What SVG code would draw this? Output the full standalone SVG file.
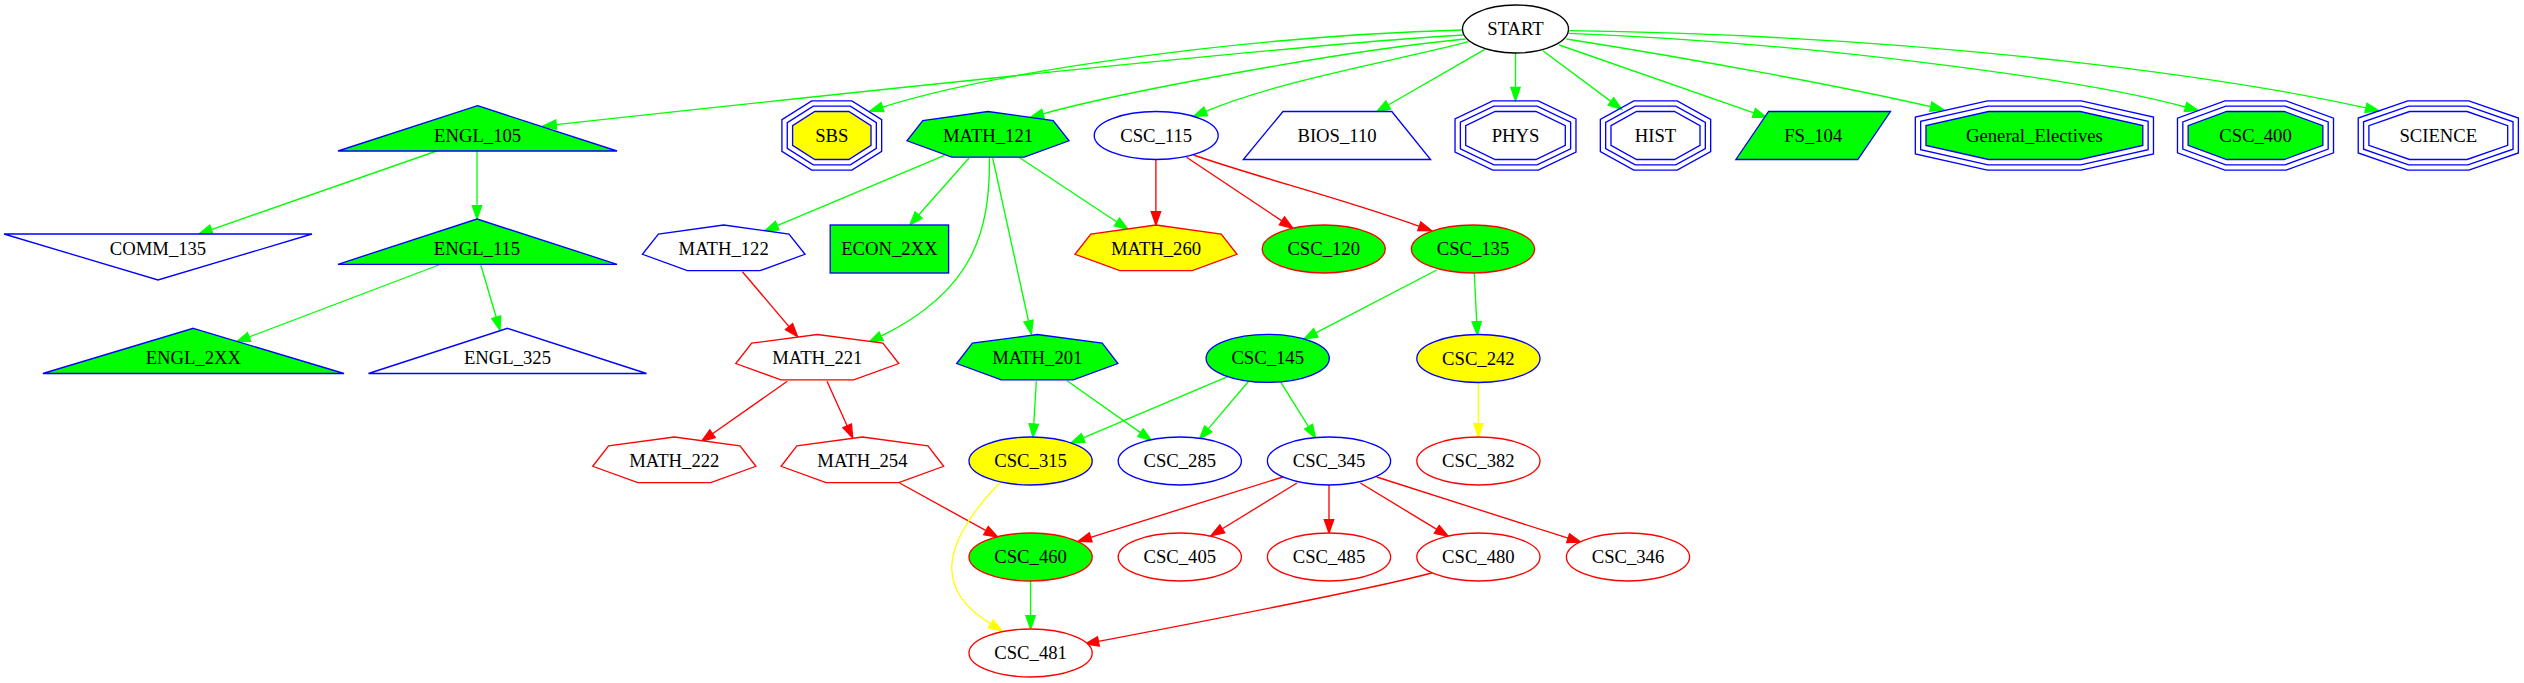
<svg xmlns="http://www.w3.org/2000/svg" width="2524" height="683" viewBox="0 0 2524 683">
<style>
text { font-family: "Liberation Serif", "Times New Roman", serif; font-size: 18.67px; text-anchor: middle; fill: #000000; }
.sb { stroke: #0000ff; stroke-width: 1.33; }
.sr { stroke: #ff0000; stroke-width: 1.33; }
.sk { stroke: #000000; stroke-width: 1.33; }
.fg { fill: #00ff00; }
.fy { fill: #ffff00; }
.fw { fill: #ffffff; }
.fn { fill: none; }
#edges path { fill: none; stroke-width: 1.33; }
.eg { stroke: #00ff00; marker-end: url(#ag); }
.er { stroke: #ff0000; marker-end: url(#ar); }
.ey { stroke: #ffff00; marker-end: url(#ay); }
</style>
<defs>
<marker id="ag" markerUnits="userSpaceOnUse" viewBox="-1 -6 16 12" markerWidth="16" markerHeight="12" refX="0" refY="0" orient="auto"><path d="M0,-4.67 L13.33,0 L0,4.67 Z" fill="#00ff00" stroke="#00ff00" stroke-width="1.33"/></marker>
<marker id="ar" markerUnits="userSpaceOnUse" viewBox="-1 -6 16 12" markerWidth="16" markerHeight="12" refX="0" refY="0" orient="auto"><path d="M0,-4.67 L13.33,0 L0,4.67 Z" fill="#ff0000" stroke="#ff0000" stroke-width="1.33"/></marker>
<marker id="ay" markerUnits="userSpaceOnUse" viewBox="-1 -6 16 12" markerWidth="16" markerHeight="12" refX="0" refY="0" orient="auto"><path d="M0,-4.67 L13.33,0 L0,4.67 Z" fill="#ffff00" stroke="#ffff00" stroke-width="1.33"/></marker>
</defs>
<rect x="0" y="0" width="2524" height="683" fill="#ffffff"/>
<g id="edges">
<path class="eg" d="M1463.7,35 C1300,44 800,98 556.2,124.6"/>
<path class="eg" d="M1462.4,30 C1250,36 1000,70 882.5,107.1"/>
<path class="eg" d="M1465.7,39 C1330,52 1110,95 1043,113.8"/>
<path class="eg" d="M1468.6,41.7 C1400,60 1280,80 1205.7,111.4"/>
<path class="eg" d="M1484.9,49.3 L1388.2,105"/>
<path class="eg" d="M1515.5,53 L1515.5,87.4"/>
<path class="eg" d="M1542.9,50.7 L1610.9,101.4"/>
<path class="eg" d="M1559.2,45 L1753.9,112.9"/>
<path class="eg" d="M1566.5,39 C1700,60 1850,88 1930.8,106.7"/>
<path class="eg" d="M1568.6,33.3 C1800,42 2080,78 2185.5,107"/>
<path class="eg" d="M1568.6,30.7 C1950,36 2240,80 2366,107.9"/>
<path class="eg" d="M436.7,151 L211.4,229.6"/>
<path class="eg" d="M477,151 L477,205.7"/>
<path class="eg" d="M438.8,265 L249.1,337"/>
<path class="eg" d="M480.8,265 L496.2,317.2"/>
<path class="eg" d="M944.5,155.3 L777.2,225.6"/>
<path class="eg" d="M969,158 L918.6,215"/>
<path class="eg" d="M989.4,158 C990,230 975,290 881.1,336.2"/>
<path class="eg" d="M992.7,158 L1028.5,321"/>
<path class="eg" d="M1019,157.3 L1116.9,222"/>
<path class="eg" d="M1436.7,270 L1315.8,332.9"/>
<path class="eg" d="M1474.3,273.3 L1476.7,321.7"/>
<path class="eg" d="M1036.3,381.3 L1033.8,424"/>
<path class="eg" d="M1067,380.7 L1140.5,432.6"/>
<path class="eg" d="M1228.2,376.3 L1083.2,437.8"/>
<path class="eg" d="M1248.6,381.3 L1208.2,428.9"/>
<path class="eg" d="M1280.8,382.3 L1308.5,426.7"/>
<path class="eg" d="M1030.6,581 L1030.6,615.7"/>
<path class="er" d="M1155.9,159.5 L1155.9,211.7"/>
<path class="er" d="M1186.5,157.3 L1281.9,220.9"/>
<path class="er" d="M1193.5,155 C1260,178 1340,198 1419.3,226.3"/>
<path class="er" d="M742.4,271.7 L789,326.6"/>
<path class="er" d="M787.3,381.3 L712.5,433.7"/>
<path class="er" d="M827,381.3 L847.2,425.9"/>
<path class="er" d="M899.6,483 L986,530.6"/>
<path class="er" d="M1282.9,477 L1090.7,537.3"/>
<path class="er" d="M1297,483 L1222.3,528.8"/>
<path class="er" d="M1329,485 L1329,519.7"/>
<path class="er" d="M1360.4,483 L1436.8,529.4"/>
<path class="er" d="M1376.7,477 L1568.1,538.2"/>
<path class="er" d="M1431.8,573 C1380,587 1200,622 1098.4,641.4"/>
<path class="ey" d="M1478.4,382.5 L1478.4,423.7"/>
<path class="ey" d="M999.6,483 C940,545 935,590 990.7,623.9"/>
</g>
<g id="START"><ellipse cx="1515.5" cy="29" rx="53" ry="24" class="fw sk"/><text x="1515.5" y="35">START</text></g>
<g id="ENGL_105"><polygon points="477.6,105.7 617,151 338,151" class="fg sb"/><text x="477.6" y="141.5">ENGL_105</text></g>
<g id="SBS">
<polygon points="811.7,100.83 851.9,100.83 881.67,119.74 881.67,151.26 851.9,170.17 811.7,170.17 781.93,151.26 781.93,119.74" class="fn sb"/>
<polygon points="813.25,106.17 850.35,106.17 876.33,122.67 876.33,148.33 850.35,164.83 813.25,164.83 787.27,148.33 787.27,122.67" class="fn sb"/>
<polygon points="814.8,111.5 848.8,111.5 871,125.6 871,145.4 848.8,159.5 814.8,159.5 792.6,145.4 792.6,125.6" class="fy sb"/>
<text x="831.8" y="141.5">SBS</text></g>
<g id="MATH_121"><polygon points="988,111.5 1053.2,120.5 1069,140.8 1024.2,157.2 951.8,157.2 907,140.8 922.8,120.5" class="fg sb"/><text x="988" y="141.5">MATH_121</text></g>
<g id="CSC_115"><ellipse cx="1156.2" cy="135.5" rx="62" ry="24" class="fw sb"/><text x="1156.2" y="141.5">CSC_115</text></g>
<g id="BIOS_110"><polygon points="1283,111.5 1391.8,111.5 1430.6,159.5 1243.3,159.5" class="fw sb"/><text x="1337" y="141.5">BIOS_110</text></g>
<g id="PHYS">
<polygon points="1492.68,100.83 1538.32,100.83 1575.97,118.89 1575.97,152.11 1538.32,170.17 1492.68,170.17 1455.03,152.11 1455.03,118.89" class="fn sb"/>
<polygon points="1493.89,106.17 1537.11,106.17 1570.63,122.25 1570.63,148.75 1537.11,164.83 1493.89,164.83 1460.37,148.75 1460.37,122.25" class="fn sb"/>
<polygon points="1495.1,111.5 1535.9,111.5 1565.3,125.6 1565.3,145.4 1535.9,159.5 1495.1,159.5 1465.7,145.4 1465.7,125.6" class="fw sb"/>
<text x="1515.5" y="141.5">PHYS</text></g>
<g id="HIST">
<polygon points="1633.81,100.83 1677.19,100.83 1710.67,119.3 1710.67,151.7 1677.19,170.17 1633.81,170.17 1600.33,151.7 1600.33,119.3" class="fn sb"/>
<polygon points="1635.18,106.17 1675.82,106.17 1705.33,122.45 1705.33,148.55 1675.82,164.83 1635.18,164.83 1605.67,148.55 1605.67,122.45" class="fn sb"/>
<polygon points="1636.55,111.5 1674.45,111.5 1700,125.6 1700,145.4 1674.45,159.5 1636.55,159.5 1611,145.4 1611,125.6" class="fw sb"/>
<text x="1655.5" y="141.5">HIST</text></g>
<g id="FS_104"><polygon points="1768.6,111.5 1890.5,111.5 1857.8,159.5 1735.9,159.5" class="fg sb"/><text x="1813.2" y="141.5">FS_104</text></g>
<g id="General_Electives">
<polygon points="1987.42,100.83 2081.38,100.83 2153.47,117.06 2153.47,153.94 2081.38,170.17 1987.42,170.17 1915.33,153.94 1915.33,117.06" class="fn sb"/>
<polygon points="1988.01,106.17 2080.79,106.17 2148.13,121.34 2148.13,149.66 2080.79,164.83 1988.01,164.83 1920.67,149.66 1920.67,121.34" class="fn sb"/>
<polygon points="1988.6,111.5 2080.2,111.5 2142.8,125.6 2142.8,145.4 2080.2,159.5 1988.6,159.5 1926,145.4 1926,125.6" class="fg sb"/>
<text x="2034.4" y="141.5">General_Electives</text></g>
<g id="CSC_400">
<polygon points="2224.86,100.83 2286.14,100.83 2333.52,118.13 2333.52,152.87 2286.14,170.17 2224.86,170.17 2177.48,152.87 2177.48,118.13" class="fn sb"/>
<polygon points="2225.8,106.17 2285.2,106.17 2328.18,121.87 2328.18,149.13 2285.2,164.83 2225.8,164.83 2182.82,149.13 2182.82,121.87" class="fn sb"/>
<polygon points="2226.75,111.5 2284.25,111.5 2322.85,125.6 2322.85,145.4 2284.25,159.5 2226.75,159.5 2188.15,145.4 2188.15,125.6" class="fg sb"/>
<text x="2255.5" y="141.5">CSC_400</text></g>
<g id="SCIENCE">
<polygon points="2407.75,100.83 2468.85,100.83 2518.37,118 2518.37,153 2468.85,170.17 2407.75,170.17 2358.23,153 2358.23,118" class="fn sb"/>
<polygon points="2408.65,106.17 2467.95,106.17 2513.03,121.8 2513.03,149.2 2467.95,164.83 2408.65,164.83 2363.57,149.2 2363.57,121.8" class="fn sb"/>
<polygon points="2409.55,111.5 2467.05,111.5 2507.7,125.6 2507.7,145.4 2467.05,159.5 2409.55,159.5 2368.9,145.4 2368.9,125.6" class="fw sb"/>
<text x="2438.3" y="141.5">SCIENCE</text></g>
<g id="COMM_135"><polygon points="4,234 312,234 158,280" class="fw sb"/><text x="158" y="255">COMM_135</text></g>
<g id="ENGL_115"><polygon points="477,219 617,264.3 338,264.3" class="fg sb"/><text x="477" y="255">ENGL_115</text></g>
<g id="MATH_122"><polygon points="723.7,225 789,234 805,254.3 760,270.7 687.4,270.7 642.4,254.3 658.4,234" class="fw sb"/><text x="723.7" y="255">MATH_122</text></g>
<g id="ECON_2XX"><rect x="830.2" y="225" width="118.4" height="48" class="fg sb"/><text x="889.4" y="255">ECON_2XX</text></g>
<g id="MATH_260"><polygon points="1156,225 1221.2,234 1237,254.3 1192.2,270.7 1119.8,270.7 1075,254.3 1090.8,234" class="fy sr"/><text x="1156" y="255">MATH_260</text></g>
<g id="CSC_120"><ellipse cx="1323.7" cy="249" rx="61.5" ry="24" class="fg sr"/><text x="1323.7" y="255">CSC_120</text></g>
<g id="CSC_135"><ellipse cx="1473" cy="249" rx="61.6" ry="24" class="fg sr"/><text x="1473" y="255">CSC_135</text></g>
<g id="ENGL_2XX"><polygon points="193.3,328.3 344,373.5 42.9,373.5" class="fg sb"/><text x="193.3" y="364">ENGL_2XX</text></g>
<g id="ENGL_325"><polygon points="507.5,328.3 646.5,373.5 368.5,373.5" class="fw sb"/><text x="507.5" y="364">ENGL_325</text></g>
<g id="MATH_221"><polygon points="817.3,334.5 882.9,343.2 898.8,363.5 853.7,379.9 780.9,379.9 735.8,363.5 751.7,343.2" class="fw sr"/><text x="817.3" y="364">MATH_221</text></g>
<g id="MATH_201"><polygon points="1037.3,334.5 1102.2,343.2 1117.9,363.5 1073.3,379.9 1001.3,379.9 956.7,363.5 972.4,343.2" class="fg sb"/><text x="1037.3" y="364">MATH_201</text></g>
<g id="CSC_145"><ellipse cx="1267.7" cy="358.3" rx="61.6" ry="24" class="fg sb"/><text x="1267.7" y="364.3">CSC_145</text></g>
<g id="CSC_242"><ellipse cx="1478.4" cy="358.5" rx="61.6" ry="24" class="fy sb"/><text x="1478.4" y="364.5">CSC_242</text></g>
<g id="MATH_222"><polygon points="674.3,437 740,445.8 755.9,466.3 710.8,482.7 637.8,482.7 592.7,466.3 608.6,445.8" class="fw sr"/><text x="674.3" y="467">MATH_222</text></g>
<g id="MATH_254"><polygon points="862.4,437 927.9,445.8 943.7,466.3 898.8,482.7 826,482.7 781.1,466.3 796.9,445.8" class="fw sr"/><text x="862.4" y="467">MATH_254</text></g>
<g id="CSC_315"><ellipse cx="1030.6" cy="461" rx="61.6" ry="24" class="fy sb"/><text x="1030.6" y="467">CSC_315</text></g>
<g id="CSC_285"><ellipse cx="1179.8" cy="461" rx="61.6" ry="24" class="fw sb"/><text x="1179.8" y="467">CSC_285</text></g>
<g id="CSC_345"><ellipse cx="1329" cy="461" rx="61.6" ry="24" class="fw sb"/><text x="1329" y="467">CSC_345</text></g>
<g id="CSC_382"><ellipse cx="1478.4" cy="461" rx="61.6" ry="24" class="fw sr"/><text x="1478.4" y="467">CSC_382</text></g>
<g id="CSC_460"><ellipse cx="1030.6" cy="557" rx="61.6" ry="24" class="fg sr"/><text x="1030.6" y="563">CSC_460</text></g>
<g id="CSC_405"><ellipse cx="1179.8" cy="557" rx="61.6" ry="24" class="fw sr"/><text x="1179.8" y="563">CSC_405</text></g>
<g id="CSC_485"><ellipse cx="1329" cy="557" rx="61.6" ry="24" class="fw sr"/><text x="1329" y="563">CSC_485</text></g>
<g id="CSC_480"><ellipse cx="1478.4" cy="557" rx="61.6" ry="24" class="fw sr"/><text x="1478.4" y="563">CSC_480</text></g>
<g id="CSC_346"><ellipse cx="1628" cy="557" rx="61.6" ry="24" class="fw sr"/><text x="1628" y="563">CSC_346</text></g>
<g id="CSC_481"><ellipse cx="1030.6" cy="653" rx="61.6" ry="24" class="fw sr"/><text x="1030.6" y="659">CSC_481</text></g>
</svg>
